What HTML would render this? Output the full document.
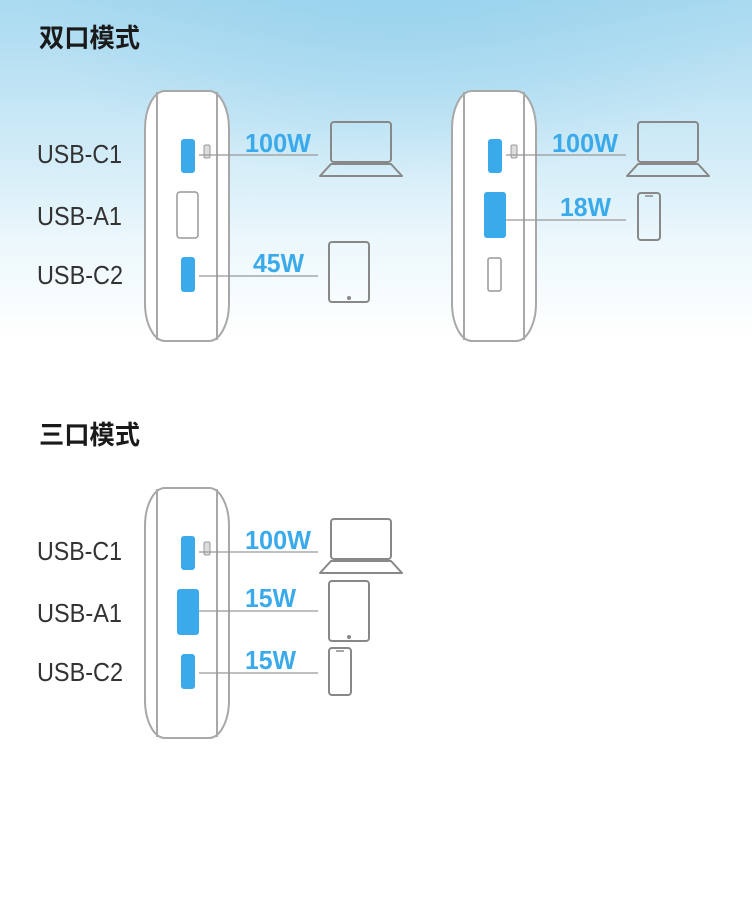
<!DOCTYPE html>
<html><head><meta charset="utf-8"><style>
html,body{margin:0;padding:0;}
body{width:752px;height:897px;overflow:hidden;background:#fff;position:relative;}
.bg{position:absolute;left:0;top:0;width:752px;height:340px;background:
radial-gradient(ellipse 380px 200px at 400px -20px, rgba(140,205,235,0.6) 0%, rgba(160,215,240,0) 100%),
linear-gradient(180deg,#a9daf0 0%,#bfe3f4 25%,#d6eef8 50%,#edf8fc 72%,#ffffff 100%);}
svg{position:absolute;left:0;top:0;}
</style></head><body>
<div class="bg"></div>
<svg width="752" height="897" viewBox="0 0 752 897" font-family="Liberation Sans, Noto Sans CJK SC, sans-serif">
<defs>
<g id="dev">
<rect x="145" y="91" width="84" height="250" rx="20" ry="38" fill="#fff" stroke="#a8a8a8" stroke-width="2"/>
<line x1="157" y1="92" x2="157" y2="340" stroke="#a8a8a8" stroke-width="2"/>
<line x1="217" y1="92" x2="217" y2="340" stroke="#a8a8a8" stroke-width="2"/>
</g>
<g id="badge">
<rect x="204" y="145" width="6" height="13" rx="1.5" fill="#ddd" stroke="#999" stroke-width="1"/>
</g>
<g id="laptop">
<rect x="331" y="122" width="60" height="40" rx="3" fill="none" stroke="#888" stroke-width="2"/>
<path d="M331 164 L391 164 L402 176 L320 176 Z" fill="none" stroke="#888" stroke-width="2" stroke-linejoin="round"/>
</g>
</defs>
<g fill="#1a1a1a" font-weight="bold" font-size="26">
<text x="39" y="47" textLength="101" lengthAdjust="spacingAndGlyphs">双口模式</text>
<text x="39" y="444" textLength="101" lengthAdjust="spacingAndGlyphs">三口模式</text>
</g>
<g fill="#333" font-size="26">
<text x="37" y="163" textLength="85" lengthAdjust="spacingAndGlyphs">USB-C1</text>
<text x="37" y="225" textLength="85" lengthAdjust="spacingAndGlyphs">USB-A1</text>
<text x="37" y="284" textLength="86" lengthAdjust="spacingAndGlyphs">USB-C2</text>
<text x="37" y="560" textLength="85" lengthAdjust="spacingAndGlyphs">USB-C1</text>
<text x="37" y="622" textLength="85" lengthAdjust="spacingAndGlyphs">USB-A1</text>
<text x="37" y="681" textLength="86" lengthAdjust="spacingAndGlyphs">USB-C2</text>
</g>
<!-- device 1 -->
<use href="#dev"/>
<rect x="181" y="139" width="14" height="34" rx="3" fill="#3aaaeb"/>
<use href="#badge"/>
<rect x="177" y="192" width="21" height="46" rx="3" fill="#fff" stroke="#999" stroke-width="1.5"/>
<rect x="181" y="257" width="14" height="35" rx="3" fill="#3aaaeb"/>
<line x1="199" y1="155" x2="318" y2="155" stroke="#999" stroke-width="1.2"/>
<line x1="199" y1="276" x2="318" y2="276" stroke="#999" stroke-width="1.2"/>
<use href="#laptop"/>
<rect x="329" y="242" width="40" height="60" rx="3" fill="none" stroke="#888" stroke-width="2"/>
<circle cx="349" cy="298" r="2" fill="#888"/>
<!-- device 2 -->
<use href="#dev" transform="translate(307,0)"/>
<rect x="488" y="139" width="14" height="34" rx="3" fill="#3aaaeb"/>
<use href="#badge" transform="translate(307,0)"/>
<rect x="484" y="192" width="22" height="46" rx="3" fill="#3aaaeb"/>
<rect x="488" y="258" width="13" height="33" rx="2" fill="#fff" stroke="#999" stroke-width="1.5"/>
<line x1="506" y1="155" x2="626" y2="155" stroke="#999" stroke-width="1.2"/>
<line x1="506" y1="220" x2="626" y2="220" stroke="#999" stroke-width="1.2"/>
<use href="#laptop" transform="translate(307,0)"/>
<rect x="638" y="193" width="22" height="47" rx="3" fill="none" stroke="#888" stroke-width="2"/>
<line x1="645" y1="196" x2="653" y2="196" stroke="#888" stroke-width="1.5"/>
<!-- device 3 -->
<use href="#dev" transform="translate(0,397)"/>
<rect x="181" y="536" width="14" height="34" rx="3" fill="#3aaaeb"/>
<use href="#badge" transform="translate(0,397)"/>
<rect x="177" y="589" width="22" height="46" rx="3" fill="#3aaaeb"/>
<rect x="181" y="654" width="14" height="35" rx="3" fill="#3aaaeb"/>
<line x1="199" y1="552" x2="318" y2="552" stroke="#999" stroke-width="1.2"/>
<line x1="199" y1="611" x2="318" y2="611" stroke="#999" stroke-width="1.2"/>
<line x1="199" y1="673" x2="318" y2="673" stroke="#999" stroke-width="1.2"/>
<use href="#laptop" transform="translate(0,397)"/>
<rect x="329" y="581" width="40" height="60" rx="3" fill="none" stroke="#888" stroke-width="2"/>
<circle cx="349" cy="637" r="2" fill="#888"/>
<rect x="329" y="648" width="22" height="47" rx="3" fill="none" stroke="#888" stroke-width="2"/>
<line x1="336" y1="651" x2="344" y2="651" stroke="#888" stroke-width="1.5"/>
<g fill="#3aaaeb" font-weight="bold" font-size="26">
<text x="245" y="152" textLength="66" lengthAdjust="spacingAndGlyphs">100W</text>
<text x="253" y="272" textLength="51" lengthAdjust="spacingAndGlyphs">45W</text>
<text x="552" y="152" textLength="66" lengthAdjust="spacingAndGlyphs">100W</text>
<text x="560" y="216" textLength="51" lengthAdjust="spacingAndGlyphs">18W</text>
<text x="245" y="549" textLength="66" lengthAdjust="spacingAndGlyphs">100W</text>
<text x="245" y="607" textLength="51" lengthAdjust="spacingAndGlyphs">15W</text>
<text x="245" y="669" textLength="51" lengthAdjust="spacingAndGlyphs">15W</text>
</g>
</svg>
</body></html>
